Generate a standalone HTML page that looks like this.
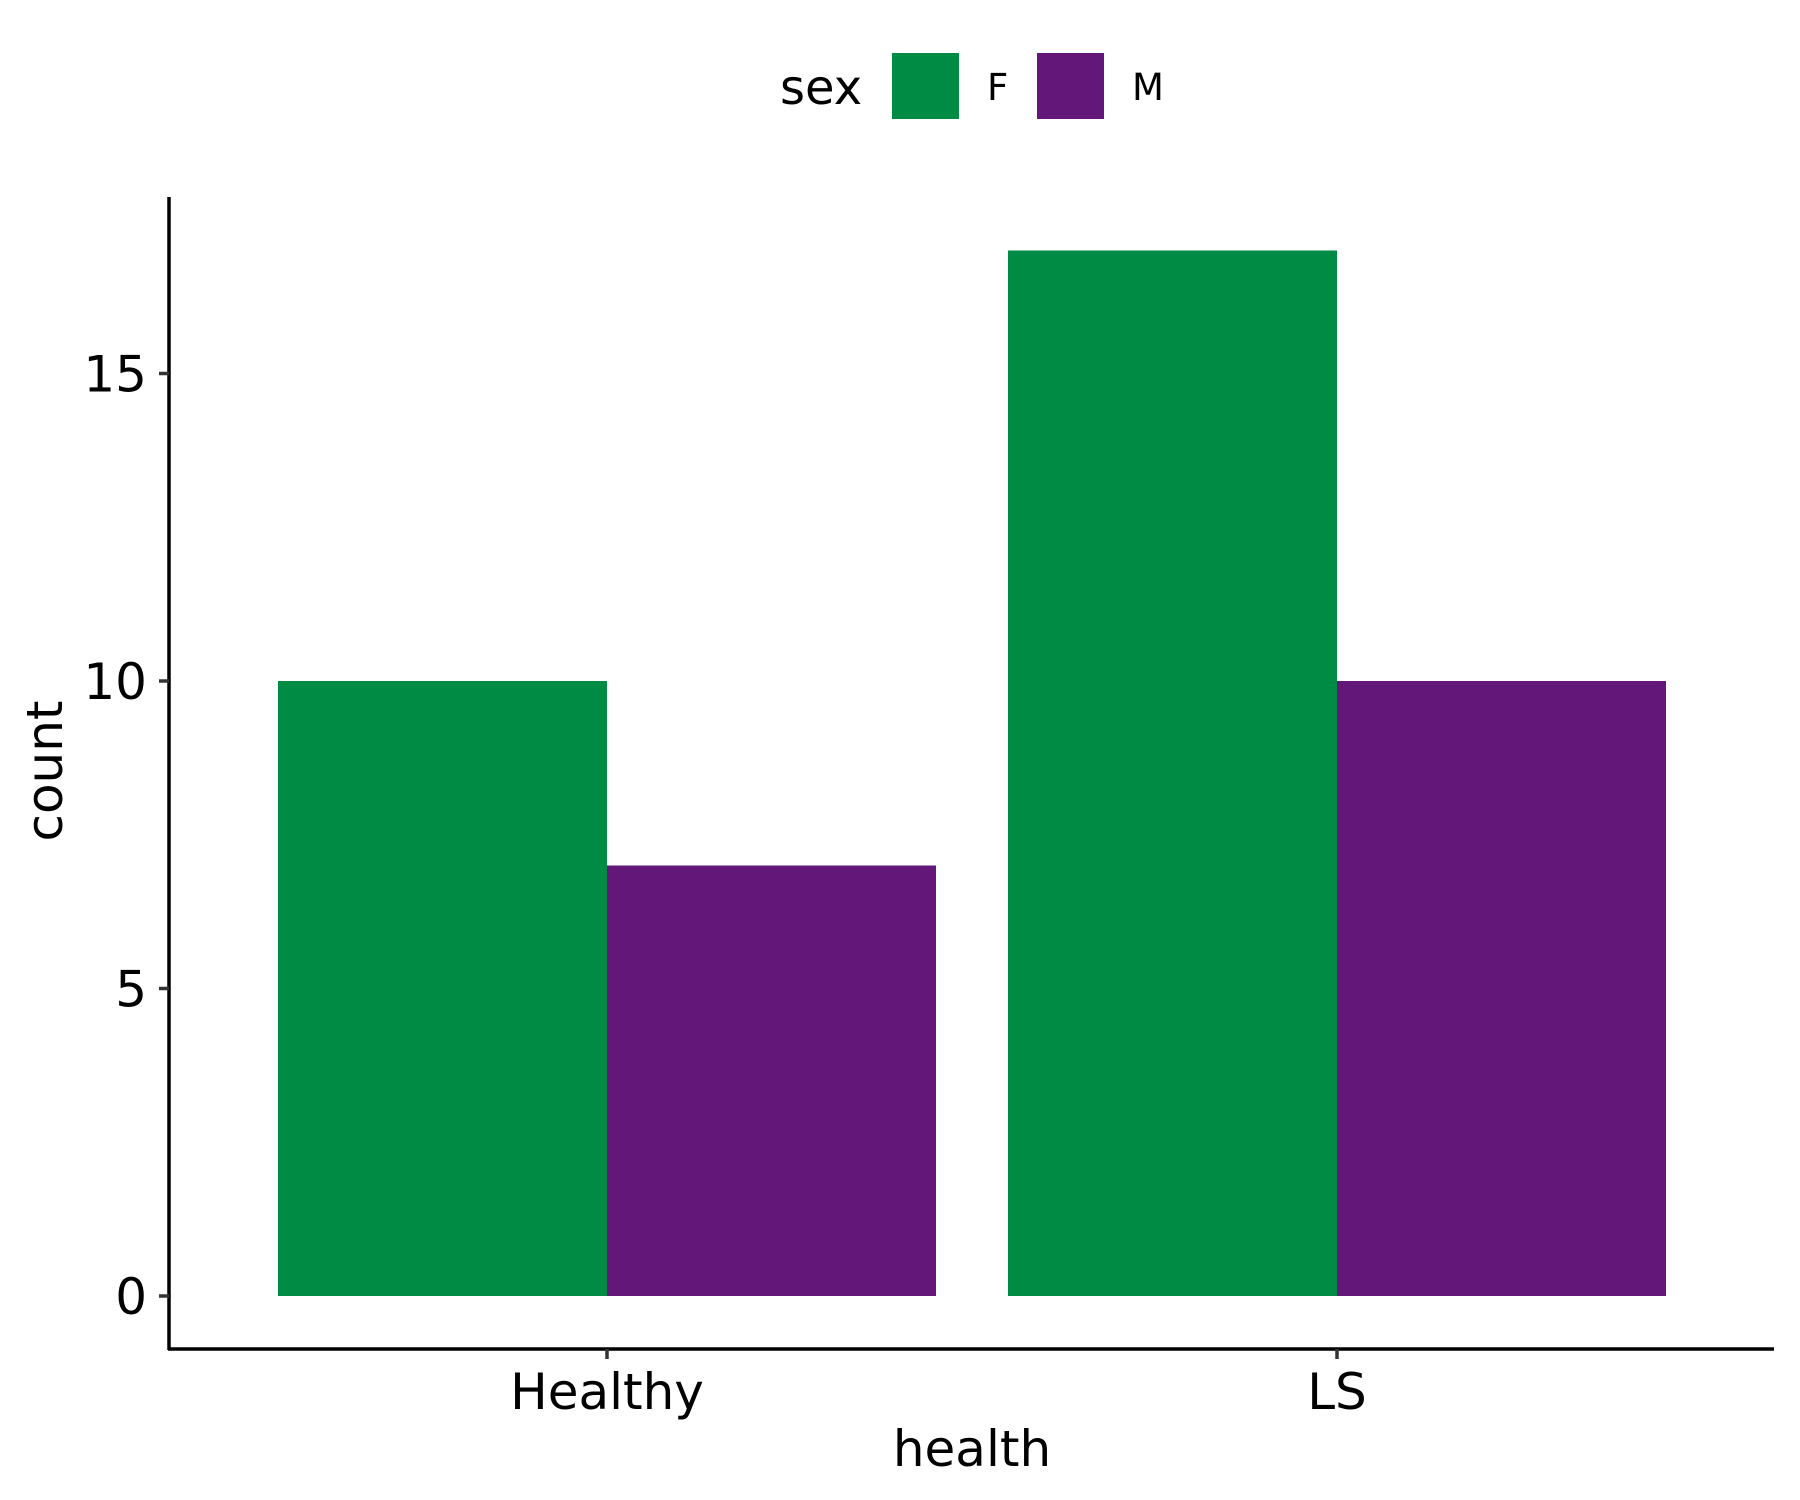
<!DOCTYPE html>
<html><head><meta charset="utf-8"><style>
html,body{margin:0;padding:0;background:#fff;}
svg{display:block;font-family:"DejaVu Sans","Liberation Sans",sans-serif;}
</style></head><body>
<svg id="chart" width="1800" height="1500" viewBox="0 0 1800 1500">
<g id="legend">
<text x="780" y="104" font-size="48">sex</text>
<rect x="892" y="53" width="67" height="66" fill="#008B45"/>
<text x="987" y="100" font-size="37">F</text>
<rect x="1037" y="53" width="67" height="66" fill="#631879"/>
<text x="1132" y="100" font-size="37">M</text>
</g>
<g id="bars"></g>
<g id="axes"></g>
<text x="972" y="1466" font-size="50" text-anchor="middle">health</text>
<text transform="translate(62,771) rotate(-90)" font-size="50" text-anchor="middle">count</text>
</svg>
<script>
const categories = ["Healthy", "LS"];
const seriesNames = ["F", "M"];
const valuesF = [10, 17];
const valuesM = [7, 10];
const yTicks = [0, 5, 10, 15];
const colors = {F: "#008B45", M: "#631879"};

const NS = "http://www.w3.org/2000/svg";
const y0 = 1296, unit = 61.5;
function yScale(v){ return y0 - v*unit; }
const catCenters = [607, 1337];
function xCenter(i){ return catCenters[0] + i*(catCenters[1]-catCenters[0]); }
const barW = 329;
const barsG = document.getElementById('bars');
const axesG = document.getElementById('axes');
function mk(tag, attrs, parent){ const e=document.createElementNS(NS,tag); for(const k in attrs) e.setAttribute(k,attrs[k]); parent.appendChild(e); return e; }

categories.forEach((c,i)=>{
  [valuesF, valuesM].forEach((vals,s)=>{
    const x = xCenter(i) - barW + s*barW;
    const r = mk('rect',{x:x,y:yScale(vals[i]),width:barW,height:yScale(0)-yScale(vals[i]),fill:colors[seriesNames[s]]},barsG);
    
    
  });
});
const yl = mk('line',{x1:169,y1:197,x2:169,y2:1350,stroke:'#000','stroke-width':3.5},axesG);


const xl = mk('line',{x1:168,y1:1349,x2:1774,y2:1349,stroke:'#000','stroke-width':3.5},axesG);


yTicks.forEach(t=>{
  const y=yScale(t);
  const tk = mk('line',{x1:159,y1:y,x2:169,y2:y,stroke:'#333','stroke-width':3.5},axesG);
  
  
  const tx = mk('text',{x:147,y:y+18,'font-size':50,'text-anchor':'end'},axesG);
  tx.textContent = t;
  
  
});
categories.forEach((c,i)=>{
  const x=xCenter(i);
  const tk = mk('line',{x1:x,y1:1349,x2:x,y2:1359,stroke:'#333','stroke-width':3.5},axesG);
  
  
  const tx = mk('text',{x:x,y:1409,'font-size':50,'text-anchor':'middle'},axesG);
  tx.textContent = c;
  
  
});
</script>
</body></html>
